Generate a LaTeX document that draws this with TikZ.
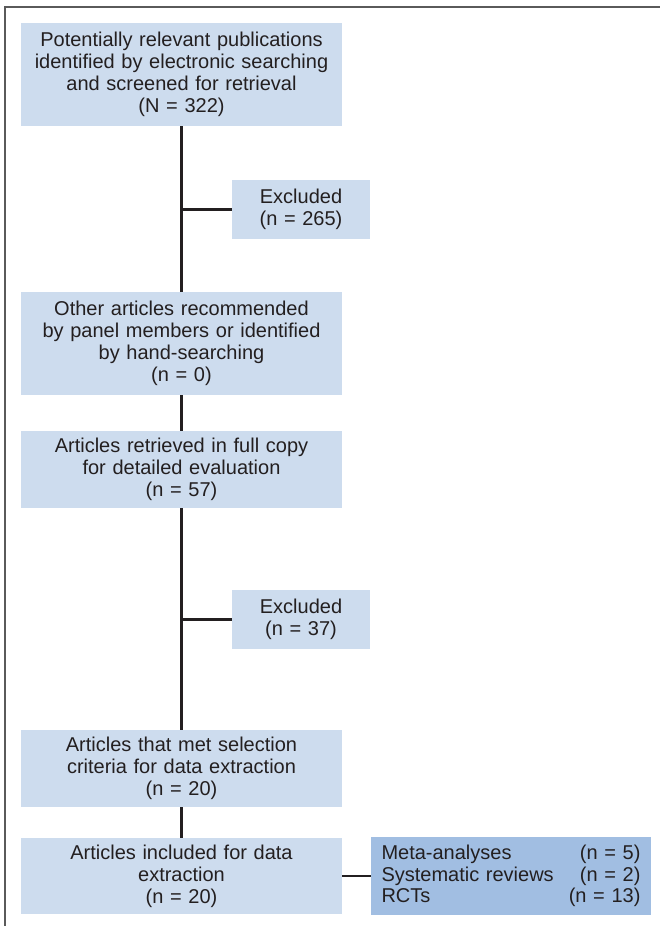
\documentclass[tikz,border=0pt]{standalone}
\usepackage{fontspec}
\setmainfont{Liberation Sans}
\usepackage{xcolor}
\usepackage{tikz}
\usetikzlibrary{calc}

\definecolor{boxblue}{RGB}{205,220,238}
\definecolor{subblue}{RGB}{161,190,226}
\definecolor{inkgray}{RGB}{35,31,32}
\definecolor{framegray}{RGB}{90,90,90}

\tikzset{
	box/.style={fill=boxblue, text=inkgray, inner sep=0pt, align=center, text width=321pt, font=\fontsize{20}{22}\selectfont},
	exbox/.style={box, text width=138pt, minimum height=59pt},
	subbox/.style={fill=subblue, text=inkgray, inner xsep=10.5pt, inner ysep=0pt, align=left, text width=259pt, minimum height=78pt, font=\fontsize{20}{21.5}\selectfont},
	link/.style={draw=inkgray, line width=2.3pt},
	frame/.style={draw=framegray, line width=2pt}
}

\begin{document}
\begin{tikzpicture}[x=1pt,y=-1pt]
		\useasboundingbox (0,0) rectangle (660,926);
		\draw [frame] (5,926) -- (5,7) -- (660,7);

		% Search
		\node [box, minimum height=103pt] at (181.5,74.5) (pub) {Potentially relevant publications\\identified by electronic searching\\and screened for retrieval\\(N = 322)};
		\node [exbox] at (301,209.5) (excl1) {Excluded\\(n = 265)};

		% Other sources
		\node [box, minimum height=103pt] at (181.5,343.5) (other) {Other articles recommended\\by panel members or identified\\by hand-searching\\(n = 0)};
		\node [box, minimum height=77pt] at (181.5,469.5) (retr) {Articles retrieved in full copy\\for detailed evaluation\\(n = 57)};
		\node [exbox] at (301,619.5) (excl2) {Excluded\\(n = 37)};

		% Selection
		\node [box, minimum height=77pt] at (181.5,768.5) (met) {Articles that met selection\\criteria for data extraction\\(n = 20)};
		\node [box, minimum height=76pt] at (181.5,876) (incl) {Articles included for data\\extraction\\(n = 20)};
		\node [subbox] at (511,876) (types) {Meta-analyses\hfill(n = 5)\\Systematic reviews\hfill(n = 2)\\RCTs\hfill(n = 13)};

		% Connectors
		\draw [link] (pub) -- (other);
		\draw [link] (other) -- (retr);
		\draw [link] (retr) -- (met);
		\draw [link] (met) -- (incl);
		\draw [link] (excl1.west -| pub.south) -- (excl1);
		\draw [link] (excl2.west -| retr.south) -- (excl2);
		\draw [link] (incl) -- (types);
	\end{tikzpicture}
\end{document}
